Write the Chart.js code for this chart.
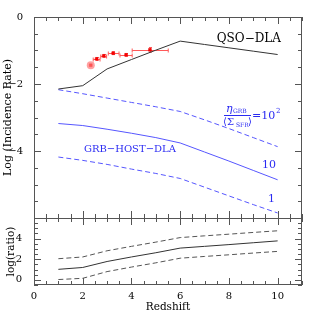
<!DOCTYPE html>
<html>
<head>
<meta charset="utf-8">
<script src="https://cdn.jsdelivr.net/npm/chart.js@4.4.0/dist/chart.umd.min.js"></script>
<style>
  body { margin: 0; background: #fff; }
</style>
</head>
<body>
<canvas id="myChart" width="319" height="319"></canvas>
<script>
// model curves, sampled at these redshifts
const redshift = [1, 2, 3, 4, 5, 6, 7, 8, 9, 10];
const qsoDla   = [-2.15, -2.05, -1.55, -1.27, -0.99, -0.72, -0.82, -0.92, -1.02, -1.12];
const grbEta100 = [-2.17, -2.29, -2.42, -2.55, -2.68, -2.82, -3.07, -3.33, -3.60, -3.87];
const grbEta10  = [-3.18, -3.24, -3.35, -3.47, -3.60, -3.76, -4.03, -4.30, -4.58, -4.86];
const grbEta1   = [-4.18, -4.28, -4.40, -4.54, -4.67, -4.82, -5.08, -5.34, -5.60, -5.85];
// lower panel: log(ratio)
const ratioEta1   = [2.05, 2.22, 2.82, 3.25, 3.66, 4.10, 4.27, 4.43, 4.60, 4.76];
const ratioEta10  = [1.02, 1.20, 1.78, 2.22, 2.63, 3.08, 3.25, 3.42, 3.60, 3.78];
const ratioEta100 = [0.03, 0.15, 0.80, 1.24, 1.65, 2.10, 2.27, 2.43, 2.60, 2.76];
// observed QSO-DLA points
const obsZ    = [2.33, 2.57, 2.86, 3.25, 3.78, 4.76];
const obsZLo  = [2.33, 2.43, 2.74, 3.05, 3.53, 4.03];
const obsZHi  = [2.33, 2.71, 2.98, 3.49, 4.03, 5.51];
const obsRate = [-1.44, -1.25, -1.16, -1.08, -1.13, -0.98];
const obsErr  = [0, 0.04, 0.04, 0.04, 0.04, 0.07];
// tick labels
const xLabels = [0, 2, 4, 6, 8, 10];
const yLabels = [0, -2, -4];
const y2Labels = [0, 2, 4];

const SERIF = "'DejaVu Serif', serif";
const BLUE_LINE = "#5656ff";
const BLUE_TEXT = "#2a2af2";

function pts(xs, ys) {
  return xs.map((x, i) => ({ x: x, y: ys[i] }));
}
function minus(v) {
  return String(v).replace("-", "\u2212");
}

function curve(data, color, dash, axis) {
  return {
    data: data, yAxisID: axis, showLine: true, pointRadius: 0,
    borderColor: color, borderWidth: 1, borderDash: dash, fill: false
  };
}

// frame + inward ticks like the original plot
const framePlugin = {
  id: "frame",
  afterDatasetsDraw(chart) {
    const c = chart.ctx;
    const xs = chart.scales.x, ys = chart.scales.y, ys2 = chart.scales.y2;
    const a = chart.chartArea;
    const mid = ys.bottom;
    c.save();
    c.strokeStyle = "#555";
    c.lineWidth = 1;
    c.strokeRect(a.left + 0.5, a.top + 0.5, a.right - a.left - 1, a.bottom - a.top - 1);
    c.beginPath();
    c.moveTo(a.left, mid + 0.5); c.lineTo(a.right, mid + 0.5);
    xs.ticks.forEach(t => {
      const p = Math.round(xs.getPixelForValue(t.value)) + 0.5;
      const len = t.value % 2 === 0 ? 7 : 4;
      c.moveTo(p, a.top); c.lineTo(p, a.top + len);
      c.moveTo(p, mid - len); c.lineTo(p, mid + len);
      c.moveTo(p, a.bottom); c.lineTo(p, a.bottom - len);
    });
    [ys, ys2].forEach(s => {
      s.ticks.forEach(t => {
        const p = Math.round(s.getPixelForValue(t.value)) + 0.5;
        const len = t.value % 2 === 0 ? 7 : 4;
        c.moveTo(a.left, p); c.lineTo(a.left + len, p);
        c.moveTo(a.right, p); c.lineTo(a.right - len, p);
      });
    });
    c.stroke();
    c.restore();
  }
};

// horizontal / vertical error bars on observed points
const errorBars = {
  id: "errorBars",
  beforeDatasetsDraw(chart) {
    const c = chart.ctx;
    const xs = chart.scales.x, ys = chart.scales.y;
    c.save();
    c.strokeStyle = "#ff5a5a";
    c.lineWidth = 1;
    c.beginPath();
    for (let i = 0; i < obsZ.length; i++) {
      const py = Math.round(ys.getPixelForValue(obsRate[i])) + 0.5;
      if (obsZHi[i] > obsZLo[i]) {
        const x1 = xs.getPixelForValue(obsZLo[i]), x2 = xs.getPixelForValue(obsZHi[i]);
        c.moveTo(x1, py); c.lineTo(x2, py);
        c.moveTo(x1, py - 2); c.lineTo(x1, py + 2);
        c.moveTo(x2, py - 2); c.lineTo(x2, py + 2);
      }
      if (obsErr[i] > 0) {
        const px = Math.round(xs.getPixelForValue(obsZ[i])) + 0.5;
        const y1 = ys.getPixelForValue(obsRate[i] - obsErr[i]), y2 = ys.getPixelForValue(obsRate[i] + obsErr[i]);
        c.moveTo(px, y1); c.lineTo(px, y2);
        c.moveTo(px - 1.5, y1); c.lineTo(px + 1.5, y1);
        c.moveTo(px - 1.5, y2); c.lineTo(px + 1.5, y2);
      }
    }
    c.stroke();
    c.restore();
  }
};

// curve labels, placed in data coordinates
const labels = {
  id: "labels",
  afterDraw(chart) {
    const c = chart.ctx;
    const xs = chart.scales.x, ys = chart.scales.y;
    const X = v => xs.getPixelForValue(v), Y = v => ys.getPixelForValue(v);
    c.save();
    c.textBaseline = "alphabetic";
    c.fillStyle = "#000";
    c.font = "12px " + SERIF;
    c.textAlign = "center";
    c.fillText("QSO\u2212DLA", X(8.82), Y(-0.74));

    c.fillStyle = BLUE_TEXT;
    c.textAlign = "left";
    c.font = "10px " + SERIF;
    c.fillText("GRB\u2212HOST\u2212DLA", X(2.05), Y(-4.02));
    c.font = "11px " + SERIF;
    c.fillText("10", X(9.36), Y(-4.5));
    c.fillText("1", X(9.6), Y(-5.51));

    // eta_GRB / <Sigma_SFR> = 10^2
    const ax = Math.round(X(7.8)), ay = Math.round(Y(-2.94));
    c.strokeStyle = BLUE_TEXT;
    c.lineWidth = 1;
    c.beginPath();
    c.moveTo(ax, ay + 0.5); c.lineTo(ax + 27, ay + 0.5);
    c.stroke();
    c.font = "italic 11px " + SERIF;
    c.fillText("\u03B7", ax + 2, ay - 3);
    c.font = "6px " + SERIF;
    c.fillText("GRB", ax + 9, ay - 2);
    c.font = "10px " + SERIF;
    c.fillText("\u27E8\u03A3", ax - 1, ay + 10);
    c.font = "6px " + SERIF;
    c.fillText("SFR", ax + 12, ay + 12);
    c.font = "10px " + SERIF;
    c.fillText("\u27E9", ax + 24, ay + 10);
    c.font = "11px " + SERIF;
    c.fillText("=10", ax + 28, ay + 4);
    c.font = "7px " + SERIF;
    c.fillText("2", ax + 52, ay - 2);
    c.restore();
  }
};

const ctx = document.getElementById("myChart");
const myChart = new Chart(ctx, {
  type: "scatter",
  data: {
    datasets: [
      curve(pts(redshift, qsoDla), "#333", [], "y"),
      curve(pts(redshift, grbEta100), BLUE_LINE, [5, 3], "y"),
      curve(pts(redshift, grbEta10), BLUE_LINE, [], "y"),
      curve(pts(redshift, grbEta1), BLUE_LINE, [5, 3], "y"),
      curve(pts(redshift, ratioEta1), "#555", [5, 3], "y2"),
      curve(pts(redshift, ratioEta10), "#333", [], "y2"),
      curve(pts(redshift, ratioEta100), "#555", [5, 3], "y2"),
      {
        data: [{ x: obsZ[0], y: obsRate[0] }], yAxisID: "y",
        pointRadius: 4, pointBackgroundColor: "rgba(255,120,120,0.7)", pointBorderWidth: 0
      },
      {
        data: pts(obsZ, obsRate), yAxisID: "y", pointStyle: "rect",
        pointRadius: 2, pointBackgroundColor: "#f00", pointBorderColor: "#d00", pointBorderWidth: 0.5
      }
    ]
  },
  options: {
    responsive: false,
    animation: false,
    layout: { padding: { top: 17, right: 17, left: 0, bottom: 0 } },
    plugins: { legend: { display: false }, tooltip: { enabled: false } },
    scales: {
      x: {
        type: "linear", min: 0, max: 11,
        grid: { display: false }, border: { display: false },
        ticks: {
          stepSize: 0.5, autoSkip: false, maxRotation: 0, padding: -3,
          color: "#000", font: { family: SERIF, size: 10 },
          callback: v => xLabels.includes(v) ? String(v) : ""
        },
        title: { display: true, text: "Redshift", color: "#000", font: { family: SERIF, size: 10.5 }, padding: { top: 0, bottom: 5 } },
        afterFit(s) { s.height = 34; }
      },
      y2: {
        type: "linear", min: -0.5, max: 6, position: "left", stack: "panels", stackWeight: 1,
        grid: { display: false }, border: { display: false },
        ticks: {
          stepSize: 0.5, autoSkip: false, padding: 4,
          color: "#000", font: { family: SERIF, size: 10 },
          callback: v => y2Labels.includes(v) ? minus(v) : ""
        },
        title: { display: true, text: "log(ratio)", color: "#000", font: { family: SERIF, size: 10.5 }, padding: { top: 5, bottom: 0 } },
        afterFit(s) { s.width = 34; }
      },
      y: {
        type: "linear", min: -6, max: 0, position: "left", stack: "panels", stackWeight: 3,
        grid: { display: false }, border: { display: false },
        ticks: {
          stepSize: 0.5, autoSkip: false, padding: 3,
          color: "#000", font: { family: SERIF, size: 10 },
          callback: v => yLabels.includes(v) ? minus(v) : ""
        },
        title: { display: true, text: "Log (Incidence Rate)", color: "#000", font: { family: SERIF, size: 11 }, padding: { top: 2, bottom: 0 } },
        afterFit(s) { s.width = 34; }
      }
    }
  },
  plugins: [errorBars, framePlugin, labels]
});
</script>
</body>
</html>
